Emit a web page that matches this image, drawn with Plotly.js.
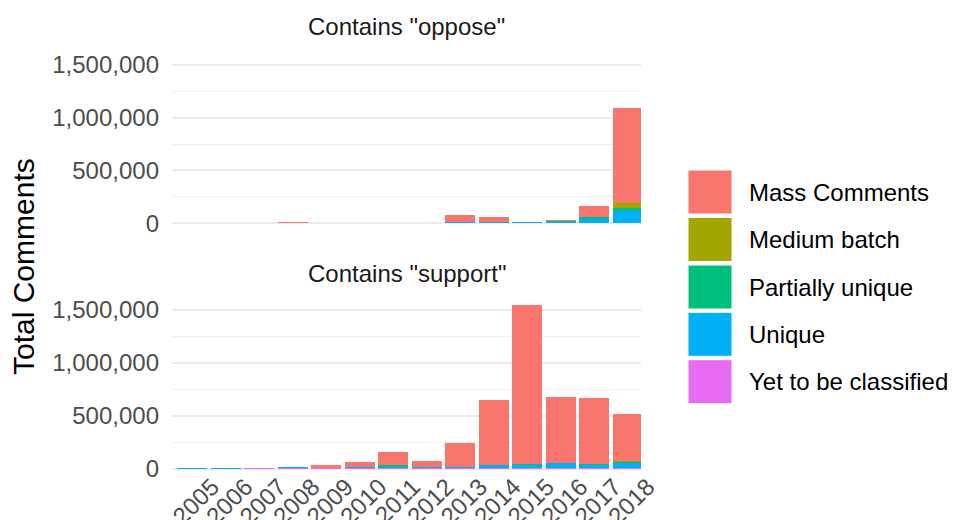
<!DOCTYPE html>
<html><head><meta charset="utf-8">
<script src="https://cdn.plot.ly/plotly-3.0.1.min.js"></script>
<style>html,body{margin:0;padding:0;background:#fff}#chart{width:958px;height:520px}</style>
</head><body><div id="chart"></div>
<script>
const years = ["2005","2006","2007","2008","2009","2010","2011","2012","2013","2014","2015","2016","2017","2018"];
const seriesNames = ["Mass Comments","Medium batch","Partially unique","Unique","Yet to be classified"];
const seriesColors = ["#F8766D","#A3A500","#00BF7D","#00B0F6","#E76BF3"];
const panelTitles = ['Contains "oppose"','Contains "support"'];
const yTitle = "Total Comments";
const yTickVals = [0,500000,1000000,1500000];

// Contains "oppose"
const opposeMass    = [0,0,0,12000,0,0,0,0,70000,52000,0,8000,107000,906000];
const opposeMedium  = [0,0,0,0,0,0,0,0,0,0,0,4000,3000,41000];
const opposePartial = [0,0,0,0,0,0,0,0,0,0,0,12000,13000,34000];
const opposeUnique  = [0,0,0,0,0,0,0,0,10000,8000,10000,8000,43000,113000];
const opposeYet     = [0,0,0,0,0,0,0,0,0,0,0,0,0,0];

// Contains "support"
const supportMass    = [0,0,0,0,30000,45000,128000,54000,222000,608000,1494000,617000,618000,448000];
const supportMedium  = [0,0,0,0,0,0,0,0,0,0,2000,0,8000,6000];
const supportPartial = [0,0,0,0,0,0,18000,0,0,5000,8000,6000,8000,12000];
const supportUnique  = [9000,9000,0,8000,0,12000,8000,12000,10000,25000,30000,45000,25000,45000];
const supportYet     = [0,0,9000,6000,6000,6000,6000,6000,8000,10000,10000,8000,8000,8000];

const W = 958, H = 520, L = 172, R = 317, T = 52, B = 43;
const pw = W - L - R, ph = H - T - B;
const px2x = p => (p - L) / pw;
const py2y = p => (H - B - p) / ph;

const FONT = "Liberation Sans, Arial, sans-serif";
const oppose = [opposeMass, opposeMedium, opposePartial, opposeUnique, opposeYet];
const support = [supportMass, supportMedium, supportPartial, supportUnique, supportYet];

const traces = [];
// stack order: last series at bottom
for (let i = seriesNames.length - 1; i >= 0; i--) {
  traces.push({type:'bar', x: years, y: oppose[i], name: seriesNames[i], marker:{color: seriesColors[i], line:{width:0}},
    xaxis:'x2', yaxis:'y2', showlegend:false, hoverinfo:'skip'});
}
for (let i = seriesNames.length - 1; i >= 0; i--) {
  traces.push({type:'bar', x: years, y: support[i], name: seriesNames[i], marker:{color: seriesColors[i], line:{width:0}},
    xaxis:'x', yaxis:'y', showlegend:false, hoverinfo:'skip'});
}

const yRange = [-77200, 1621000];
const yax = (domain) => ({
  domain: domain, range: yRange, tickvals: yTickVals, tickformat: ',d',
  showgrid: true, gridcolor: '#EBEBEB', gridwidth: 2, zeroline: false, showline: false, ticks: '',
  ticklabelstandoff: 12,
  tickfont: {family: FONT, size: 24, color: '#4D4D4D'},
  minor: {dtick: 250000, tick0: 0, showgrid: true, gridcolor: '#EFEFEF', gridwidth: 1, ticks: ''},
  fixedrange: true
});

const shapes = [], annotations = [];
// legend keys
const keyTop = [170, 217.5, 265, 312.3, 359.7];
for (let i = 0; i < seriesNames.length; i++) {
  shapes.push({type:'rect', xref:'paper', yref:'paper', x0: px2x(688), x1: px2x(732), y0: py2y(keyTop[i]+44), y1: py2y(keyTop[i]),
    fillcolor: seriesColors[i], line:{width:1, color:'#FFFFFF'}, layer:'above'});
  annotations.push({xref:'paper', yref:'paper', x: px2x(747), y: py2y(keyTop[i]+22), xanchor:'left', yanchor:'middle',
    text: seriesNames[i], showarrow:false, font:{family: FONT, size: 24, color:'#000000'}});
}
annotations.push({xref:'paper', yref:'paper', x: px2x(406.5), y: py2y(27), xanchor:'center', yanchor:'middle',
  text: panelTitles[0], showarrow:false, font:{family: FONT, size: 24, color:'#1A1A1A'}});
annotations.push({xref:'paper', yref:'paper', x: px2x(406.5), y: py2y(273), xanchor:'center', yanchor:'middle',
  text: panelTitles[1], showarrow:false, font:{family: FONT, size: 24, color:'#1A1A1A'}});
annotations.push({xref:'paper', yref:'paper', x: px2x(23), y: py2y(267), xanchor:'center', yanchor:'middle',
  text: yTitle, textangle: -90, showarrow:false, font:{family: FONT, size: 30, color:'#000000'}});

const layout = {
  width: W, height: H, margin: {l: L, r: R, t: T, b: B, pad: 0},
  paper_bgcolor: '#FFFFFF', plot_bgcolor: '#FFFFFF',
  barmode: 'stack', bargap: 0.1, showlegend: false,
  font: {family: FONT},
  xaxis: {anchor:'y', type:'category', range:[-0.6, 13.4], showgrid:false, zeroline:false, showline:false, ticks:'',
    tickangle: -45, tickfont:{family: FONT, size: 24, color:'#4D4D4D'}, ticklabelshift: 20, ticklabelstandoff: -10, fixedrange:true},
  xaxis2: {anchor:'y2', type:'category', matches:'x', range:[-0.6, 13.4], showgrid:false, zeroline:false, showline:false, ticks:'',
    showticklabels:false, fixedrange:true},
  yaxis: yax([0, py2y(296.9)]),
  yaxis2: yax([py2y(231.5), 1]),
  shapes: shapes, annotations: annotations
};

Plotly.newPlot('chart', traces, layout, {staticPlot: true, displayModeBar: false});
</script>
</body></html>
